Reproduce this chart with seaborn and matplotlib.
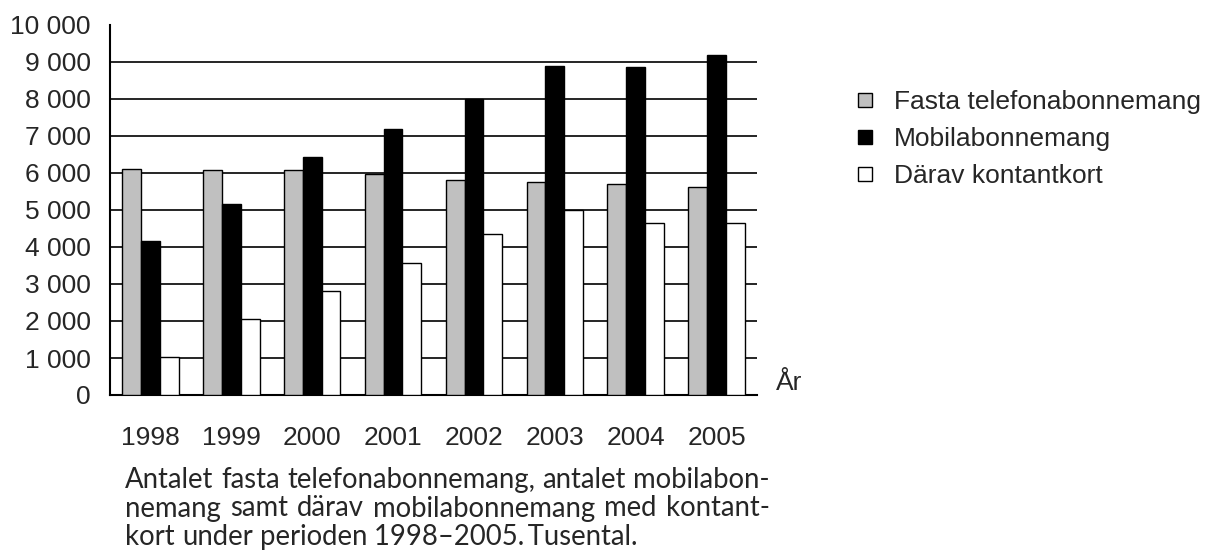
import numpy as np
import pandas as pd
import matplotlib
matplotlib.use("Agg")
import matplotlib.pyplot as plt
import seaborn as sns
from matplotlib.lines import Line2D
from matplotlib.ticker import FuncFormatter

years = ["1998", "1999", "2000", "2001", "2002", "2003", "2004", "2005"]
fasta = [6120, 6090, 6080, 5980, 5820, 5750, 5700, 5630]
mobil = [4160, 5150, 6420, 7200, 8000, 8900, 8860, 9190]
kontant = [1030, 2060, 2800, 3560, 4340, 4990, 4640, 4640]
series_names = ["Fasta telefonabonnemang", "Mobilabonnemang", "Därav kontantkort"]
colors = ["#c0c0c0", "#000000", "#ffffff"]

caption = [
    "Antalet fasta telefonabonnemang, antalet mobilabon-",
    "nemang samt därav mobilabonnemang med kontant-",
    "kort under perioden 1998–2005.\u2009Tusental.",
]

df = pd.DataFrame({
    "year": years * 3,
    "value": fasta + mobil + kontant,
    "series": [series_names[0]] * 8 + [series_names[1]] * 8 + [series_names[2]] * 8,
})

sns.set_style("white")
plt.rcParams["font.family"] = ["Liberation Sans", "DejaVu Sans"]
FS = 19

fig = plt.figure(figsize=(12.08, 5.58), dpi=100)
ax = fig.add_axes([110 / 1208, 1 - 395 / 558, 647 / 1208, 370 / 558])

sns.barplot(data=df, x="year", y="value", hue="series", palette=colors,
            edgecolor="black", linewidth=1.0, width=0.7, ax=ax, zorder=3)

ax.set_xlim(-0.5, 7.5)
ax.set_ylim(0, 10000)
ax.set_yticks(np.arange(0, 10001, 1000))
ax.yaxis.set_major_formatter(FuncFormatter(lambda v, p: f"{int(v):,}".replace(",", " ")))
for yv in range(1000, 10000, 1000):
    ax.axhline(yv, color="black", linewidth=1.2, zorder=1)

# ticks between categories, labels at centres
ax.set_xticks(np.arange(-0.5, 8, 1))
ax.set_xticklabels([])
ax.set_xticks(np.arange(8), minor=True)
ax.set_xticklabels(years, minor=True)
ax.tick_params(axis="x", which="major", direction="out", length=7, width=1.5, color="black")
ax.tick_params(axis="x", which="minor", length=0, pad=22, labelsize=FS)
ax.tick_params(axis="y", direction="out", length=7, width=1.5, color="black", labelsize=FS, pad=7)

for s in ["top", "right"]:
    ax.spines[s].set_visible(False)
for s in ["left", "bottom"]:
    ax.spines[s].set_color("black")
    ax.spines[s].set_linewidth(1.5)
ax.set_xlabel("")
ax.set_ylabel("")
ax.text(1.03, 0.0, "År", transform=ax.transAxes, fontsize=FS, va="bottom", ha="left")

# square legend markers
handles = [Line2D([], [], linestyle="none", marker="s", markersize=10,
                  markerfacecolor=c, markeredgecolor="black", markeredgewidth=1.0)
           for c in colors]
ax.legend(handles, series_names, loc="upper left", bbox_to_anchor=(831 / 1208, 1 - 66 / 558),
          bbox_transform=fig.transFigure, frameon=False, fontsize=FS,
          handlelength=0.75, handletextpad=0.75, labelspacing=0.5)

# justified caption, font size chosen so the first line fills the width
renderer = fig.canvas.get_renderer()
x0, x1 = 125 / 1208, 770 / 1208
cap_font = ["Lato", "DejaVu Sans"]
probe = fig.text(0, 0, caption[0], fontsize=10, family=cap_font)
cap_fs = 10 * (x1 - x0) * 1208 / probe.get_window_extent(renderer).width
probe.remove()
for i, line in enumerate(caption):
    yb = 1 - (488 + i * 28.5) / 558
    words = line.split(" ")
    texts = [fig.text(0, yb, w, fontsize=cap_fs, family=cap_font, va="baseline")
             for w in words]
    widths = [t.get_window_extent(renderer).width / 1208 for t in texts]
    if i < len(caption) - 1:
        gap = (x1 - x0 - sum(widths)) / (len(words) - 1)
    else:
        gap = cap_fs * 0.26 * 100 / 72 / 1208
    x = x0
    for t, w in zip(texts, widths):
        t.set_x(x)
        x += w + gap

fig.savefig("out.png", dpi=100)
